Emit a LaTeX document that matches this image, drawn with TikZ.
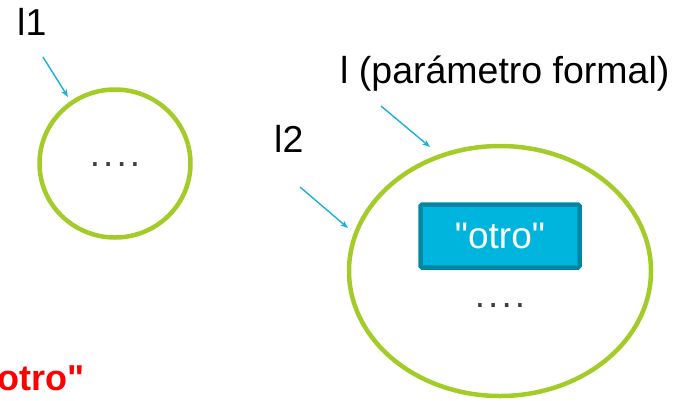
\documentclass[tikz,border=0pt]{standalone}
\usepackage{fontspec}
\setmainfont{Liberation Sans}[Ligatures=TeXOff]
\usetikzlibrary{shapes.geometric,arrows.meta}
\definecolor{limeedge}{HTML}{A4CC28}
\definecolor{arrowblue}{HTML}{1AAFD8}
\definecolor{boxfill}{HTML}{00B5DD}
\definecolor{boxedge}{HTML}{0088A3}
\definecolor{dotcol}{HTML}{3C3C4C}
\newcommand{\fourdots}{.\hspace{3pt}.\hspace{3pt}.\hspace{3pt}.}
\begin{document}
\begin{tikzpicture}[x=1pt,y=-1pt,
  bigtext/.style={font=\fontsize{37.5}{40}\selectfont, inner sep=0pt, anchor=base west},
  oval/.style={draw=limeedge, line width=4.5pt, ellipse, inner sep=0pt},
  pointer/.style={draw=arrowblue, line width=1.4pt, -{Stealth[length=8pt,width=6pt]}},
  dots/.style={font=\fontsize{37}{40}\selectfont, text=dotcol, inner sep=0pt}]
\useasboundingbox (0,0) rectangle (680,400);
% ellipses
\node[oval, minimum width=151pt, minimum height=148pt] (e1) at (115,163.5) {};
\node[oval, minimum width=302pt, minimum height=250pt] (e2) at (500,271) {};
% contents
\node[dots, anchor=base] (d1) at (115,166) {\fourdots};
\node[dots, anchor=base] (d2) at (500,307) {\fourdots};
\node[draw=boxedge, line width=4.5pt, fill=boxfill, rounded corners=1.5pt,
      minimum width=159pt, minimum height=63pt, inner sep=0pt,
      text=white, font=\fontsize{37}{40}\selectfont] (box) at (500,236) {"otro"};
% labels
\node[bigtext] (l1) at (17,35) {l1};
\node[bigtext] (l2) at (274,152) {l2};
\node[bigtext] (lp) at (340,83) {l (parámetro formal)};
\node[bigtext, text=red, font=\fontsize{36}{40}\selectfont\bfseries] (red) at (-3,390) {otro"};
% arrows
\coordinate (a1s) at (43,57);
\coordinate (a1e) at (68,97);
\coordinate (a2s) at (300,187);
\coordinate (a2e) at (348,228);
\coordinate (a3s) at (381,106);
\coordinate (a3e) at (430,147);
\draw[pointer] (a1s) -- (a1e);
\draw[pointer] (a2s) -- (a2e);
\draw[pointer] (a3s) -- (a3e);
\end{tikzpicture}
\end{document}
